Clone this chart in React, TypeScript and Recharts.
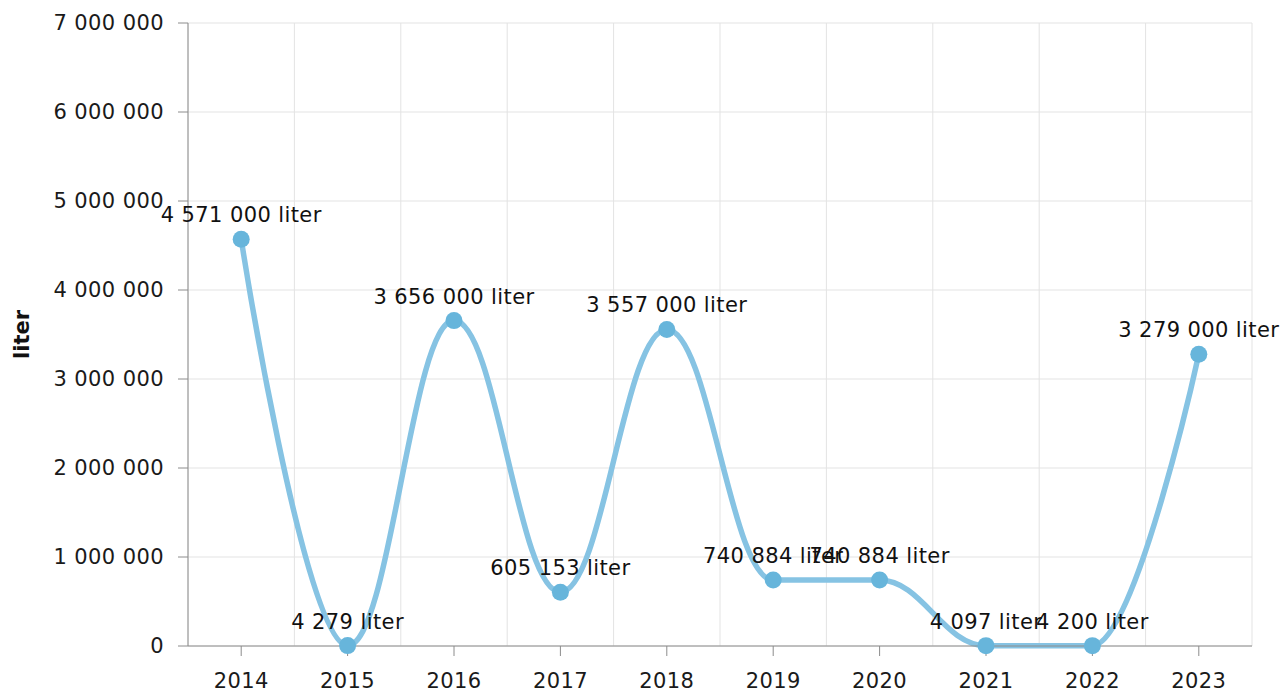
import { LineChart, Line, XAxis, YAxis, CartesianGrid, LabelList, Label } from "recharts"

const years = [2014, 2015, 2016, 2017, 2018, 2019, 2020, 2021, 2022, 2023]
const liters = [4571000, 4279, 3656000, 605153, 3557000, 740884, 740884, 4097, 4200, 3279000]
const yTicks = [0, 1000000, 2000000, 3000000, 4000000, 5000000, 6000000, 7000000]
const gridTicks = [2013.5, 2014.5, 2015.5, 2016.5, 2017.5, 2018.5, 2019.5, 2020.5, 2021.5, 2022.5, 2023.5]

const data = years.map((year, i) => ({ year, value: liters[i] }))

const fmt = (v: number) => Math.round(v).toString().replace(/\B(?=(\d{3})+(?!\d))/g, " ")

// spline flattened at local extremes, so it never overshoots the data
function splineCurve(context: any) {
  let pts: [number, number][] = []
  return {
    areaStart() {},
    areaEnd() {},
    lineStart() {
      pts = []
    },
    point(x: number, y: number) {
      pts.push([+x, +y])
    },
    lineEnd() {
      if (!pts.length) return
      const s = 1.5
      const d = s + 1
      const left: ([number, number] | null)[] = []
      const right: ([number, number] | null)[] = []
      pts.forEach(([px, py], i) => {
        const last = pts[i - 1]
        const next = pts[i + 1]
        if (!last || !next) {
          left.push(null)
          right.push(null)
          return
        }
        const [lx, ly] = last
        const [nx, ny] = next
        const lcx = (s * px + lx) / d
        let lcy = (s * py + ly) / d
        const rcx = (s * px + nx) / d
        let rcy = (s * py + ny) / d
        let corr = 0
        if (rcx !== lcx) corr = ((rcy - lcy) * (rcx - px)) / (rcx - lcx) + py - rcy
        lcy += corr
        rcy += corr
        if (lcy > ly && lcy > py) {
          lcy = Math.max(ly, py)
          rcy = 2 * py - lcy
        } else if (lcy < ly && lcy < py) {
          lcy = Math.min(ly, py)
          rcy = 2 * py - lcy
        }
        if (rcy > ny && rcy > py) {
          rcy = Math.max(ny, py)
          lcy = 2 * py - rcy
        } else if (rcy < ny && rcy < py) {
          rcy = Math.min(ny, py)
          lcy = 2 * py - rcy
        }
        left.push([lcx, lcy])
        right.push([rcx, rcy])
      })
      context.moveTo(pts[0][0], pts[0][1])
      for (let i = 1; i < pts.length; i++) {
        const a = right[i - 1] ?? pts[i - 1]
        const b = left[i] ?? pts[i]
        context.bezierCurveTo(a[0], a[1], b[0], b[1], pts[i][0], pts[i][1])
      }
    },
  }
}

const textStyle = { fill: "#1a1a1a", fontSize: 21, letterSpacing: 0.4 }

export default function App() {
  return (
    <div style={{ fontFamily: "'DejaVu Sans', Verdana, sans-serif", width: 1284, height: 693 }}>
      <style>{"body { margin: 0; }"}</style>
      <LineChart width={1284} height={693} data={data} margin={{ top: 23, right: 32, bottom: 0, left: 8 }}>
        <XAxis xAxisId="grid" type="number" dataKey="year" domain={[2013.5, 2023.5]} ticks={gridTicks} hide />
        <CartesianGrid xAxisId="grid" stroke="#e3e3e3" strokeWidth={1} />
        <XAxis
          type="number"
          dataKey="year"
          domain={[2013.5, 2023.5]}
          ticks={years}
          interval={0}
          height={47}
          tickSize={10}
          tickMargin={17}
          stroke="#8c8c8c"
          tick={textStyle}
        />
        <YAxis
          domain={[0, 7000000]}
          ticks={yTicks}
          width={180}
          tickSize={10}
          tickMargin={14}
          stroke="#8c8c8c"
          tickFormatter={fmt}
          tick={textStyle}
        >
          <Label
            value="liter"
            angle={-90}
            position="insideLeft"
            offset={14}
            style={{ textAnchor: "middle", fontWeight: "bold", fontSize: 21, fill: "#111" }}
          />
        </YAxis>
        <Line
          type={splineCurve as any}
          dataKey="value"
          stroke="#86c3e3"
          strokeWidth={5.5}
          dot={{ r: 8.5, fill: "#67b5db", stroke: "none" }}
          activeDot={false}
          isAnimationActive={false}
        >
          <LabelList
            dataKey="value"
            position="top"
            offset={17}
            formatter={(v: any) => `${fmt(Number(v))} liter`}
            style={{ fill: "#111", fontSize: 21, letterSpacing: 0.4 }}
          />
        </Line>
      </LineChart>
    </div>
  )
}
